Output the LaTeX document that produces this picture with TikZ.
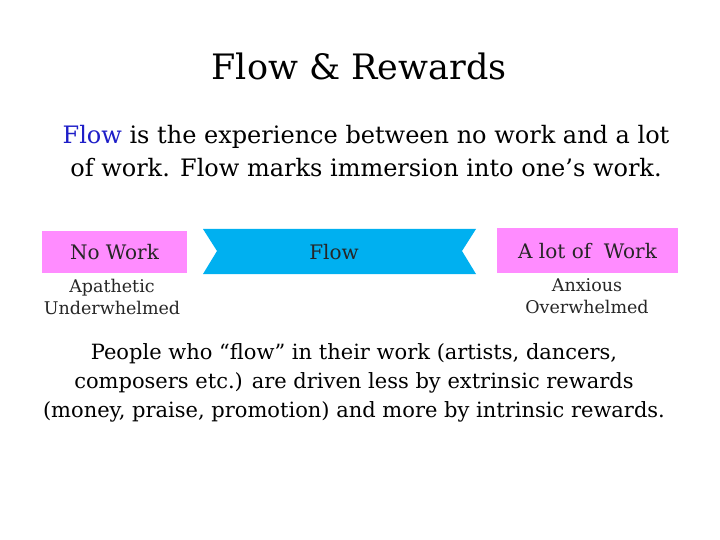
\documentclass[tikz,border=0pt]{standalone}
\usepackage{fontspec}
\setmainfont{DejaVu Serif}
\definecolor{pinkbox}{RGB}{255,140,255}
\definecolor{flowblue}{RGB}{0,176,240}
\definecolor{flowtxt}{RGB}{30,30,200}
\begin{document}
\begin{tikzpicture}[x=1pt,y=-1pt,
  lbl/.style={font=\fontsize{20}{21}\selectfont, text=black!85},
  sub/.style={font=\fontsize{17.5}{22}\selectfont, align=center, text=black!85},
  body/.style={font=\fontsize{21}{29}\selectfont, align=center}]
\useasboundingbox (0,0) rectangle (720,540);
\fill[white] (0,0) rectangle (720,540);
\node[font=\fontsize{35}{40}\selectfont] (title) at (359,66) {Flow \& Rewards};
\node[font=\fontsize{24}{33}\selectfont, align=center] (intro) at (366,151) {\textcolor{flowtxt}{Flow} is the experience between no work and a lot\\of work. Flow marks immersion into one’s work.};
\fill[pinkbox] (42,231) rectangle (187,273);
\node[lbl] (nw) at (114.5,252) {No Work};
\fill[flowblue] (203,229) -- (476,229) -- (462,251) -- (476,274) -- (203,274) -- (217,251) -- cycle;
\node[lbl] (flow) at (334,252) {Flow};
\fill[pinkbox] (497,228) rectangle (678,273);
\node[lbl] (alot) at (587.5,251) {A lot of\ \ Work};
\node[sub] (apa) at (112,297) {Apathetic\\Underwhelmed};
\node[sub] (anx) at (587,296) {Anxious\\Overwhelmed};
\node[body] (people) at (354,383) {People who “flow” in their work (artists, dancers,\\composers etc.) are driven less by extrinsic rewards\\(money, praise, promotion) and more by intrinsic rewards.};
\end{tikzpicture}
\end{document}
